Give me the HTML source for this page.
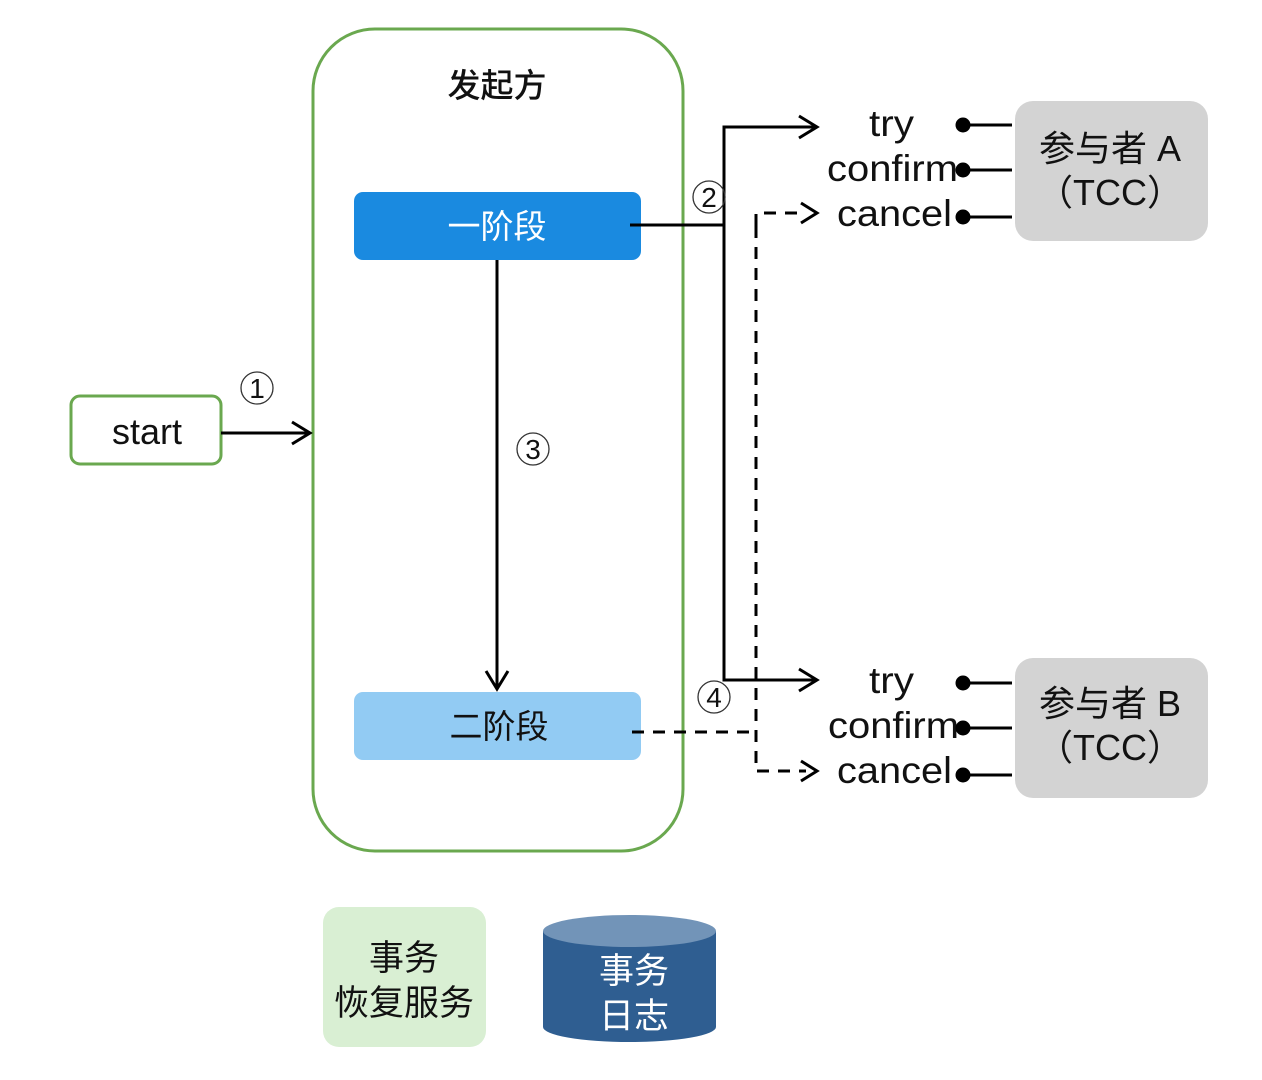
<!DOCTYPE html>
<html><head><meta charset="utf-8"><style>
html,body{margin:0;padding:0;background:#fff;}
svg{display:block;}
text{font-family:"Liberation Sans","Noto Sans CJK SC",sans-serif;}
</style></head><body>
<svg width="1262" height="1080" viewBox="0 0 1262 1080" xmlns="http://www.w3.org/2000/svg">
<rect x="313" y="29" width="370" height="822" rx="62" fill="none" stroke="#6aa84f" stroke-width="3"/>
<text x="497" y="97" font-size="33" text-anchor="middle" fill="#111" font-weight="500">发起方</text>
<rect x="354" y="192" width="287" height="68" rx="9" fill="#1a8ae0"/>
<text x="497" y="238" font-size="33" text-anchor="middle" fill="#fff">一阶段</text>
<rect x="354" y="692" width="287" height="68" rx="9" fill="#92cbf3"/>
<text x="499" y="738" font-size="33" text-anchor="middle" fill="#111">二阶段</text>
<rect x="71" y="396" width="150" height="68" rx="9" fill="#fff" stroke="#6aa84f" stroke-width="3"/>
<text x="147" y="444" font-size="36" text-anchor="middle" fill="#111">start</text>
<g fill="none" stroke="#000" stroke-width="3">
<line x1="221" y1="433" x2="309" y2="433"/>
<path d="M292,422 L310,433 L292,444"/>
<line x1="497" y1="260" x2="497" y2="688"/>
<path d="M486,671 L497,689 L508,671"/>
<polyline points="630,225 724,225 724,127 816,127"/>
<path d="M799,116 L817,127 L799,138"/>
<polyline points="724,225 724,680 816,680"/>
<path d="M799,669 L817,680 L799,691"/>
<polyline points="632,732 756,732" stroke-dasharray="12,9"/>
<polyline points="756,226 756,213 806,213" stroke-dasharray="12,9"/>
<path d="M801,203 L817,213 L801,223"/>
<polyline points="756,226 756,771 806,771" stroke-dasharray="12,9"/>
<path d="M801,761 L817,771 L801,781"/>
</g>
<g fill="none" stroke="#333" stroke-width="1.3">
<circle cx="257" cy="388" r="16"/><circle cx="533" cy="449" r="16"/><circle cx="709" cy="197" r="16"/><circle cx="714" cy="697" r="16"/>
</g>
<g font-size="28" text-anchor="middle" fill="#111">
<text x="257" y="398">1</text><text x="533" y="459">3</text><text x="709" y="207">2</text><text x="714" y="707">4</text>
</g>
<g font-size="37" fill="#111">
<text x="869" y="136" textLength="45" lengthAdjust="spacingAndGlyphs">try</text>
<text x="827" y="181" textLength="131" lengthAdjust="spacingAndGlyphs">confirm</text>
<text x="837" y="226" textLength="115" lengthAdjust="spacingAndGlyphs">cancel</text>
<text x="869" y="693" textLength="45" lengthAdjust="spacingAndGlyphs">try</text>
<text x="828" y="738" textLength="131" lengthAdjust="spacingAndGlyphs">confirm</text>
<text x="837" y="783" textLength="115" lengthAdjust="spacingAndGlyphs">cancel</text>
</g>
<g stroke="#000" stroke-width="3" fill="#000">
<line x1="963" y1="125" x2="1012" y2="125"/><circle cx="963" cy="125" r="6"/>
<line x1="963" y1="170" x2="1012" y2="170"/><circle cx="963" cy="170" r="6"/>
<line x1="963" y1="217" x2="1012" y2="217"/><circle cx="963" cy="217" r="6"/>
<line x1="963" y1="683" x2="1012" y2="683"/><circle cx="963" cy="683" r="6"/>
<line x1="963" y1="728" x2="1012" y2="728"/><circle cx="963" cy="728" r="6"/>
<line x1="963" y1="775" x2="1012" y2="775"/><circle cx="963" cy="775" r="6"/>
</g>
<rect x="1015" y="101" width="193" height="140" rx="18" fill="#d3d3d3"/>
<text x="1110" y="161" font-size="36" text-anchor="middle" fill="#111">参与者 A</text>
<text x="1110" y="205" font-size="36" text-anchor="middle" fill="#111">（TCC）</text>
<rect x="1015" y="658" width="193" height="140" rx="18" fill="#d3d3d3"/>
<text x="1110" y="716" font-size="36" text-anchor="middle" fill="#111">参与者 B</text>
<text x="1110" y="760" font-size="36" text-anchor="middle" fill="#111">（TCC）</text>
<rect x="323" y="907" width="163" height="140" rx="16" fill="#d9efd3"/>
<text x="404" y="970" font-size="35" text-anchor="middle" fill="#111">事务</text>
<text x="404" y="1015" font-size="35" text-anchor="middle" fill="#111">恢复服务</text>
<path d="M543,931 L543,1027 A86.5,15 0 0 0 716,1027 L716,931 Z" fill="#2f5e91"/>
<ellipse cx="629.5" cy="931" rx="86.5" ry="16" fill="#7294b8"/>
<text x="634" y="983" font-size="35" text-anchor="middle" fill="#fff">事务</text>
<text x="634" y="1028" font-size="35" text-anchor="middle" fill="#fff">日志</text>
</svg>
</body></html>
